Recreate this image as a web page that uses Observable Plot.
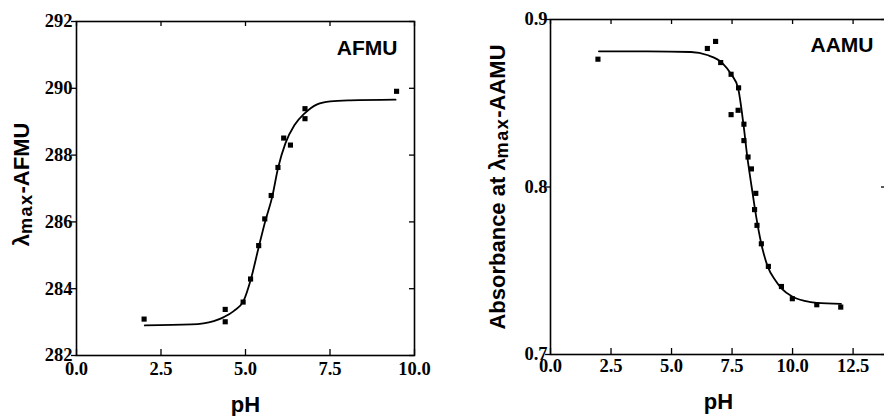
<!DOCTYPE html>
<html><head><meta charset="utf-8">
<script src="https://cdn.jsdelivr.net/npm/d3@7"></script>
<script src="https://cdn.jsdelivr.net/npm/@observablehq/plot@0.6"></script>
<style>
html,body{margin:0;padding:0;background:#fff;overflow:hidden;}
#wrap{display:flex;width:884px;height:416px;overflow:hidden;}
#wrap svg{flex:0 0 auto;}
</style></head><body><div id="wrap"></div>
<script>
// ---- AFMU panel data ----
const afmuPH     = [2.0, 4.4, 4.4, 4.93, 5.15, 5.39, 5.57, 5.76, 5.96, 6.13, 6.33, 6.76, 6.76, 9.47];
const afmuLambda = [283.09, 283.38, 283.01, 283.6, 284.29, 285.29, 286.09, 286.79, 287.63, 288.51, 288.3, 289.39, 289.09, 289.91];
const afmuFitPH     = [2.02, 3.4, 4.06, 4.36, 4.65, 4.95, 5.15, 5.39, 5.59, 5.79, 5.96, 6.18, 6.45, 6.75, 7.12, 7.51, 8.1, 9.44];
const afmuFitLambda = [282.90, 282.93, 283.03, 283.15, 283.33, 283.65, 284.25, 285.24, 286.04, 286.75, 287.6, 288.35, 288.9, 289.25, 289.52, 289.61, 289.64, 289.66];
const afmuXTicks = [0, 2.5, 5, 7.5, 10];
const afmuYTicks = [282, 284, 286, 288, 290, 292];
const afmuTag = "AFMU";
const afmuYLabel = ["λ", "max", "-AFMU"];

// ---- AAMU panel data ----
const aamuPH  = [1.96, 6.48, 6.82, 7.03, 7.46, 7.46, 7.77, 7.75, 7.99, 7.99, 8.16, 8.30, 8.48, 8.43, 8.53, 8.71, 9.0, 9.54, 9.99, 11.0, 11.99];
const aamuAbs = [0.8763, 0.8827, 0.8869, 0.8743, 0.8673, 0.8432, 0.8592, 0.8458, 0.8375, 0.8277, 0.8179, 0.8108, 0.7962, 0.7865, 0.7771, 0.7661, 0.7526, 0.7406, 0.7333, 0.7297, 0.7283];
const aamuFitPH  = [2.0, 4.0, 5.8, 6.47, 7.1, 7.48, 7.75, 7.97, 8.13, 8.31, 8.50, 8.71, 8.97, 9.3, 9.54, 10.0, 10.5, 11.0, 12.0];
const aamuFitAbs = [0.881, 0.881, 0.8806, 0.8788, 0.874, 0.867, 0.859, 0.8375, 0.818, 0.800, 0.782, 0.766, 0.7526, 0.744, 0.7395, 0.7345, 0.732, 0.7308, 0.7302];
const aamuXTicks = [0, 2.5, 5, 7.5, 10, 12.5];
const aamuYTicks = [0.7, 0.8, 0.9];
const aamuTag = "AAMU";
const aamuYLabel = ["Absorbance at λ", "max", "-AAMU"];

const xTitle = "pH";

const serif = "'Liberation Serif', 'Times New Roman', Times, serif";
const sans = "'Liberation Sans', Arial, Helvetica, sans-serif";

function pairs(xs, ys) { return xs.map((x, i) => ({x, y: ys[i]})); }

function panel(o) {
  const [x0, x1] = o.xDomain, [y0, y1] = o.yDomain;
  const label = o.yLabel.join("");
  const svg = Plot.plot({
    width: o.width, height: 416,
    marginLeft: o.ml, marginRight: o.mr, marginTop: o.mt, marginBottom: o.mb,
    style: {background: "white", maxWidth: "none", overflow: "visible"},
    x: {domain: o.xDomain, label: null},
    y: {domain: o.yDomain, label: null},
    marks: [
      // inward ticks: bottom, top, right; outward on left
      Plot.ruleX(o.xTicks, {x: d => d, y1: y0, y2: y0, insetTop: 0, insetBottom: 6, strokeWidth: 1.3}),
      Plot.ruleX(o.xTicks, {x: d => d, y1: y1, y2: y1, insetTop: 0, insetBottom: -5, strokeWidth: 1.3}),
      Plot.ruleY(o.yTicks, {y: d => d, x1: x0, x2: x0, insetLeft: -5, insetRight: 0, strokeWidth: 1.3}),
      Plot.ruleY(o.yTicks, {y: d => d, x1: x1, x2: x1, insetLeft: -5, insetRight: 0, strokeWidth: 1.3}),
      Plot.frame({stroke: "black", strokeWidth: 1.6}),
      Plot.axisX(o.xTicks, {tickSize: 0, tickPadding: o.xPad, tickFormat: d3.format(".1f"), fontFamily: serif, fontSize: 18.5, fontWeight: "bold", label: null}),
      Plot.axisY(o.yTicks, {tickSize: 0, tickPadding: o.yPad, tickFormat: o.yFormat, fontFamily: serif, fontSize: 18.5, fontWeight: "bold", label: null}),
      Plot.line(pairs(o.fitX, o.fitY), {x: "x", y: "y", curve: "monotone-x", stroke: "black", strokeWidth: 1.8}),
      Plot.dot(pairs(o.px, o.py), {x: "x", y: "y", symbol: "square", r: 2.9, fill: "black", stroke: "none"}),
      Plot.text([o.tag], {frameAnchor: o.tagAnchor, textAnchor: "end", lineAnchor: "top", dx: o.tagDx, dy: o.tagDy, fontFamily: sans, fontWeight: "bold", fontSize: 21, fill: "black"}),
      Plot.text([xTitle], {frameAnchor: "bottom", textAnchor: "middle", lineAnchor: "bottom", dy: o.xtDy, fontFamily: sans, fontWeight: "bold", fontSize: 22, fill: "black"}),
      Plot.text([label], {frameAnchor: "left", rotate: -90, dx: o.ytDx, dy: o.ytDy, textAnchor: "middle", lineAnchor: "middle", fontFamily: sans, fontWeight: "bold", fontSize: 22, fill: "black"})
    ]
  });
  d3.select(svg).selectAll("text").filter(function () { return this.textContent === label; }).each(function () {
    const t = d3.select(this);
    t.text(null);
    t.append("tspan").text(o.yLabel[0]);
    t.append("tspan").attr("font-size", "0.82em").attr("dy", 3).attr("letter-spacing", 1.5).text(o.yLabel[1]);
    t.append("tspan").attr("dy", -3).text(o.yLabel[2]);
  });
  return svg;
}

const wrap = document.getElementById("wrap");
wrap.appendChild(panel({
  width: 442, ml: 76, mr: 28, mt: 21, mb: 61,
  xDomain: [0, 10], yDomain: [282, 292],
  xTicks: afmuXTicks, yTicks: afmuYTicks, yFormat: d3.format("d"),
  xPad: 6, yPad: 4,
  px: afmuPH, py: afmuLambda, fitX: afmuFitPH, fitY: afmuFitLambda,
  tag: afmuTag, tagAnchor: "top-right", tagDx: -17, tagDy: 19,
  xtDy: 56, ytDx: -54.3, ytDy: -4, yLabel: afmuYLabel
}));
wrap.appendChild(panel({
  width: 446, ml: 108, mr: 2, mt: 19, mb: 62,
  xDomain: [0, 13.88], yDomain: [0.7, 0.9],
  xTicks: aamuXTicks, yTicks: aamuYTicks, yFormat: d3.format(".1f"),
  xPad: 4, yPad: 3,
  px: aamuPH, py: aamuAbs, fitX: aamuFitPH, fitY: aamuFitAbs,
  tag: aamuTag, tagAnchor: "top-left", tagDx: 323, tagDy: 18,
  xtDy: 54, ytDx: -52.3, ytDy: 0, yLabel: aamuYLabel
}));
</script></body></html>
